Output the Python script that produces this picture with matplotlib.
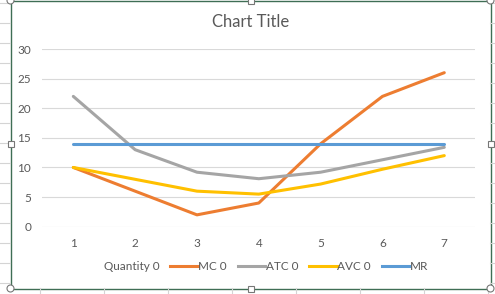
import matplotlib.pyplot as plt
from matplotlib.lines import Line2D
from matplotlib.patches import Rectangle, Circle

# --- data ---
quantity = [1, 2, 3, 4, 5, 6, 7]
mc = [10, 6, 2, 4, 14, 22, 26]
atc = [22, 13, 9.2, 8.1, 9.2, 11.3, 13.4]
avc = [10, 8, 6, 5.5, 7.2, 9.7, 12]
mr = [14, 14, 14, 14, 14, 14, 14]

series = [
    ("MC 0", mc, "#ED7D31"),
    ("ATC 0", atc, "#A5A5A5"),
    ("AVC 0", avc, "#FFC000"),
    ("MR", mr, "#5B9BD5"),
]
y_ticks = [0, 5, 10, 15, 20, 25, 30]

FONT = ["Lato", "DejaVu Sans"]
TXT = "#595959"
W, H = 495, 294

plt.rcParams["font.family"] = FONT
fig = plt.figure(figsize=(W / 100, H / 100), dpi=100, facecolor="white")

# Excel sheet around the chart (cell grid + chart frame + handles)
deco = fig.add_axes([0, 0, 1, 1], zorder=-5)
deco.set_xlim(0, W)
deco.set_ylim(H, 0)
deco.axis("off")
for yy in range(3, 294, 20):
    deco.plot([0, 10], [yy, yy], color="#D4D4D4", lw=0.8)
    deco.plot([490, 495], [yy, yy], color="#D4D4D4", lw=0.8)
for xx in range(40, 495, 64):
    deco.plot([xx, xx], [288, 294], color="#D4D4D4", lw=0.8)
deco.add_patch(Rectangle((10.5, 0.5), 480, 288, fill=False, ec="#3F6E55", lw=1.0))
for cx, cy in [(10.5, 0.5), (490.5, 0.5), (10.5, 288.5), (490.5, 288.5)]:
    deco.add_patch(Circle((cx, cy), 3.5, fc="white", ec="#777777", lw=0.8, zorder=5))
for cx, cy in [(250.5, 0.5), (250.5, 288.5), (10.5, 144), (490.5, 144)]:
    deco.add_patch(Rectangle((cx - 3, cy - 3), 6, 6, fc="white", ec="#777777", lw=0.8, zorder=5))

ax = fig.add_axes([42.4 / W, 67.3 / H, 432.8 / W, 177.7 / H])
for name, vals, color in series:
    ax.plot(quantity, vals, color=color, lw=2.2, solid_capstyle="round",
            solid_joinstyle="round", label=name, zorder=3)

ax.set_xlim(0.5, 7.5)
ax.set_ylim(0, 30)
ax.set_yticks(y_ticks)
ax.set_xticks(quantity)
ax.yaxis.grid(True, color="#D9D9D9", lw=0.8)
ax.set_axisbelow(True)
for sp in ax.spines.values():
    sp.set_visible(False)
ax.tick_params(length=0, labelsize=8.5, labelcolor=TXT, pad=8)
ax.tick_params(axis="y", pad=8)
ax.set_facecolor("none")

fig.text(251 / W, 1 - 22 / H, "Chart Title", ha="center", va="center",
         fontsize=12, color=TXT)

handles = [Line2D([], [], color="none")]
labels = ["Quantity 0"]
for name, vals, color in series:
    handles.append(Line2D([], [], color=color, lw=2.2))
    labels.append(name)
fig.legend(handles, labels, loc="center", bbox_to_anchor=(252 / W, 27 / H),
           ncol=5, frameon=False, fontsize=8.5, labelcolor=TXT,
           handlelength=2.3, handletextpad=0.05, columnspacing=0.95)

fig.savefig("out.png", dpi=100, facecolor="white")
